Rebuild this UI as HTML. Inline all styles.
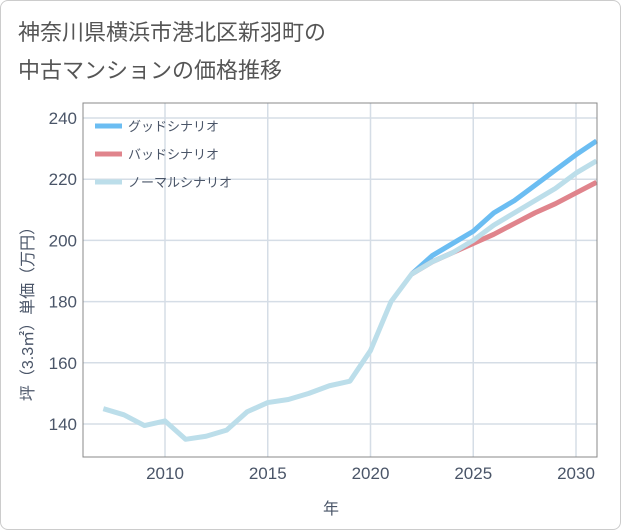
<!DOCTYPE html>
<html><head><meta charset="utf-8"><style>
body{margin:0;background:#fff;}
#wrap{position:relative;width:619px;height:528px;border:1px solid #ccc;border-radius:8px;background:#fff;font-family:"Liberation Sans","Noto Sans CJK JP",sans-serif;overflow:hidden}
</style></head><body>
<div id="wrap">
<svg id="svg" width="621" height="530" style="position:absolute;left:-1px;top:-1px">
<text x="18" y="40" font-size="22" fill="#555" font-family="Liberation Sans,Noto Sans CJK JP,sans-serif">神奈川県横浜市港北区新羽町の</text>
<text x="18" y="78" font-size="22" fill="#555" font-family="Liberation Sans,Noto Sans CJK JP,sans-serif">中古マンションの価格推移</text>
<g id="grid"></g><g id="lines"></g><g id="axes"></g>
<text x="331" y="514" font-size="16" fill="#4a5568" text-anchor="middle" font-family="Noto Sans CJK JP,sans-serif">年</text>
<text transform="translate(33,310) rotate(-90)" font-size="16" fill="#4a5568" text-anchor="middle" font-family="Liberation Sans,Noto Sans CJK JP,sans-serif">坪（3.3㎡）単価（万円）</text>
<g id="legend"></g>
</svg>
</div>
<script>
const years=[2007,2008,2009,2010,2011,2012,2013,2014,2015,2016,2017,2018,2019,2020,2021,2022,2023,2024,2025,2026,2027,2028,2029,2030,2031];
const normal=[145,143,139.5,141,135,136,138,144,147,148,150,152.5,154,164,180,189,193,196,200,205,209,213,217,222,226];
const projYears=[2022,2023,2024,2025,2026,2027,2028,2029,2030,2031];
const good=[189,195,199,203,209,213,218,223,228,232.5];
const bad=[189,193,196,199,202,205.5,209,212,215.5,219];
const xTicks=[2010,2015,2020,2025,2030];
const yTicks=[140,160,180,200,220,240];
const NS="http://www.w3.org/2000/svg";
const L=83,R=597,T=103,B=457;
const x=v=>165+(v-2010)*(576-165)/20;
const y=v=>424-(v-140)*(424-118)/100;
function mk(tag,a,p){const e=document.createElementNS(NS,tag);for(const k in a)e.setAttribute(k,a[k]);p.appendChild(e);return e;}
const grid=document.getElementById('grid'),axes=document.getElementById('axes'),lines=document.getElementById('lines'),leg=document.getElementById('legend');
for(const t of xTicks){const g=mk('line',{x1:x(t),x2:x(t),y1:T,y2:B,stroke:'#d5dde6','stroke-width':1.5},grid);

const tx=mk('text',{x:x(t),y:B+22,'font-size':17,fill:'#4a5568','text-anchor':'middle'},axes);tx.textContent=t;
}
for(const t of yTicks){const g=mk('line',{x1:L,x2:R,y1:y(t),y2:y(t),stroke:'#d5dde6','stroke-width':1.5},grid);

const tx=mk('text',{x:L-6,y:y(t)+6,'font-size':17,fill:'#4a5568','text-anchor':'end'},axes);tx.textContent=t;
}
const fr=mk('rect',{x:L,y:T,width:R-L,height:B-T,fill:'none',stroke:'#888','stroke-width':1},axes);

function line(xs,vs,c,name){const p=mk('polyline',{points:xs.map((v,i)=>x(v)+','+y(vs[i])).join(' '),fill:'none',stroke:c,'stroke-width':5,'stroke-linejoin':'round'},lines);
}
line(projYears,good,'#6bbdf2','good-scenario-line');
line(projYears,bad,'#e0848c','bad-scenario-line');
line(years,normal,'#bcdeea','normal-scenario-line');
const items=[['グッドシナリオ','#6bbdf2'],['バッドシナリオ','#e0848c'],['ノーマルシナリオ','#bcdeea']];
items.forEach((it,i)=>{const yy=126+i*28;
const g=mk('g',{},leg);
mk('line',{x1:95,x2:122,y1:yy,y2:yy,stroke:it[1],'stroke-width':5},g);
const t=mk('text',{x:128,y:yy+5,'font-size':13,fill:'#4a5568'},g);t.textContent=it[0];});
</script>
</body></html>
